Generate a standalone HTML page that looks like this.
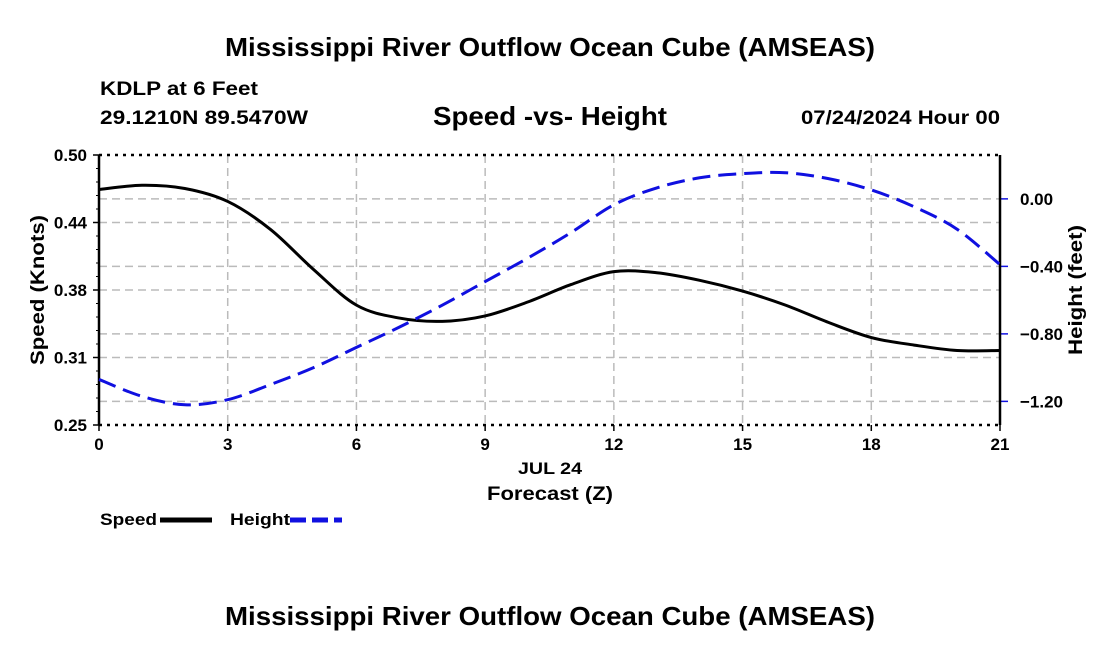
<!DOCTYPE html>
<html><head><meta charset="utf-8"><style>
body{margin:0;background:#fff;width:1100px;height:650px;overflow:hidden;font-family:"Liberation Sans",Arial,sans-serif}
svg text{font-family:"Liberation Sans",Arial,sans-serif;font-weight:bold}
</style></head><body>
<svg id="c" width="1100" height="650">
<text x="225" y="56" font-size="26" textLength="650" lengthAdjust="spacingAndGlyphs">Mississippi River Outflow Ocean Cube (AMSEAS)</text>
<text x="100" y="95" font-size="19" textLength="158" lengthAdjust="spacingAndGlyphs">KDLP at 6 Feet</text>
<text x="100" y="124" font-size="19" textLength="208" lengthAdjust="spacingAndGlyphs">29.1210N  89.5470W</text>
<text x="433" y="125" font-size="26" textLength="234" lengthAdjust="spacingAndGlyphs">Speed -vs- Height</text>
<text x="801" y="124" font-size="19" textLength="199" lengthAdjust="spacingAndGlyphs">07/24/2024 Hour 00</text>
<g id="grid"></g><g id="axes"></g><g id="series"></g>
<text x="518" y="474" font-size="17" textLength="64" lengthAdjust="spacingAndGlyphs">JUL 24</text>
<text x="487" y="500" font-size="19" textLength="126" lengthAdjust="spacingAndGlyphs">Forecast (Z)</text>
<text transform="translate(44,290) rotate(-90)" x="-75" font-size="19" textLength="150" lengthAdjust="spacingAndGlyphs">Speed (Knots)</text>
<text transform="translate(1082,290) rotate(-90)" x="-65" font-size="19" textLength="130" lengthAdjust="spacingAndGlyphs">Height (feet)</text>
<g>
<text x="100" y="525" font-size="17" textLength="57" lengthAdjust="spacingAndGlyphs">Speed</text>
<line x1="160" y1="520" x2="212" y2="520" stroke="#000" stroke-width="5"/>
<text x="230" y="525" font-size="17" textLength="60" lengthAdjust="spacingAndGlyphs">Height</text>
<line x1="290" y1="520" x2="342" y2="520" stroke="#1010e0" stroke-width="5" stroke-dasharray="16,6"/>
</g>
<text x="225" y="625" font-size="26" textLength="650" lengthAdjust="spacingAndGlyphs">Mississippi River Outflow Ocean Cube (AMSEAS)</text>
</svg>
<script>
const hours=[0,1,2,3,4,5,6,7,8,9,10,11,12,13,14,15,16,17,18,19,20,21];
const speed=[0.468,0.472,0.469,0.457,0.431,0.394,0.361,0.349,0.346,0.351,0.364,0.380,0.392,0.391,0.384,0.374,0.361,0.345,0.331,0.324,0.319,0.319];
const height=[-1.07,-1.17,-1.22,-1.19,-1.10,-1.00,-0.88,-0.76,-0.63,-0.49,-0.35,-0.20,-0.035,0.065,0.125,0.15,0.155,0.12,0.053,-0.047,-0.18,-0.39];
const xTicks=[0,3,6,9,12,15,18,21];
const speedTicks=[0.25,0.3125,0.375,0.4375,0.50];
const speedLabels=["0.25","0.31","0.38","0.44","0.50"];
const heightTicks=[-1.2,-0.8,-0.4,0.0];
const heightLabels=["\u22121.20","\u22120.80","\u22120.40","0.00"];
const L=99,R=1000,T=155,B=425;
const X=h=>L+(h-0)/21*(R-L);
const YS=v=>B-(v-0.25)/0.25*(B-T);
const YH=v=>T+(0.26-v)/1.6*(B-T);
const NS="http://www.w3.org/2000/svg";
function mk(p,t,a){const e=document.createElementNS(NS,t);for(const k in a)e.setAttribute(k,a[k]);p.appendChild(e);return e;}
const grid=document.getElementById('grid'),axes=document.getElementById('axes'),ser=document.getElementById('series');
xTicks.forEach(h=>{if(h>0&&h<21){const l=mk(grid,'line',{x1:X(h),x2:X(h),y1:T,y2:B,stroke:'#bbb','stroke-width':1.5,'stroke-dasharray':'8,5'});

}
const t=mk(axes,'text',{x:X(h),y:B+25,'text-anchor':'middle','font-size':17});t.textContent=h;


mk(axes,'line',{x1:X(h),x2:X(h),y1:B,y2:B+6,stroke:'#000','stroke-width':1.5});});
speedTicks.forEach((v,i)=>{if(i>0&&i<speedTicks.length-1){const l=mk(grid,'line',{x1:L,x2:R,y1:YS(v),y2:YS(v),stroke:'#bbb','stroke-width':1.5,'stroke-dasharray':'8,5'});

}
mk(axes,'line',{x1:L-6,x2:L,y1:YS(v),y2:YS(v),stroke:'#000','stroke-width':1.5});
const t=mk(axes,'text',{x:L-12,y:YS(v)+6,'text-anchor':'end','font-size':17});t.textContent=speedLabels[i];

});
for(let k=0;k<=20;k++){const v=0.25+k*0.0125;mk(axes,'line',{x1:L-3,x2:L,y1:YS(v),y2:YS(v),stroke:'#000','stroke-width':1});}
heightTicks.forEach((v,i)=>{const l=mk(grid,'line',{x1:L,x2:R,y1:YH(v),y2:YH(v),stroke:'#bbb','stroke-width':1.5,'stroke-dasharray':'8,5'});


mk(axes,'line',{x1:R,x2:R+8,y1:YH(v),y2:YH(v),stroke:'#1010e0','stroke-width':1.5});
const t=mk(axes,'text',{x:R+20,y:YH(v)+6,'font-size':17});t.textContent=heightLabels[i];

});
mk(axes,'line',{x1:L,x2:R,y1:T,y2:T,stroke:'#000','stroke-width':2.5,'stroke-dasharray':'3,5'});
mk(axes,'line',{x1:L,x2:R,y1:B,y2:B,stroke:'#000','stroke-width':2.5,'stroke-dasharray':'3,5'});
mk(axes,'line',{x1:L,x2:L,y1:T,y2:B,stroke:'#000','stroke-width':2.5});
mk(axes,'line',{x1:R,x2:R,y1:T,y2:B,stroke:'#000','stroke-width':2.5});
function smooth(pts){let d=`M${pts[0][0]},${pts[0][1]}`;for(let i=0;i<pts.length-1;i++){const p0=pts[i-1]||pts[i],p1=pts[i],p2=pts[i+1],p3=pts[i+2]||p2;
d+=` C${p1[0]+(p2[0]-p0[0])/6},${p1[1]+(p2[1]-p0[1])/6} ${p2[0]-(p3[0]-p1[0])/6},${p2[1]-(p3[1]-p1[1])/6} ${p2[0]},${p2[1]}`;}return d;}
const sp=mk(ser,'path',{d:smooth(hours.map((h,i)=>[X(h),YS(speed[i])])),fill:'none',stroke:'#000','stroke-width':3});


const hp=mk(ser,'path',{d:smooth(hours.map((h,i)=>[X(h),YH(height[i])])),fill:'none',stroke:'#1010e0','stroke-width':3,'stroke-dasharray':'18,8'});


</script>
</body></html>
